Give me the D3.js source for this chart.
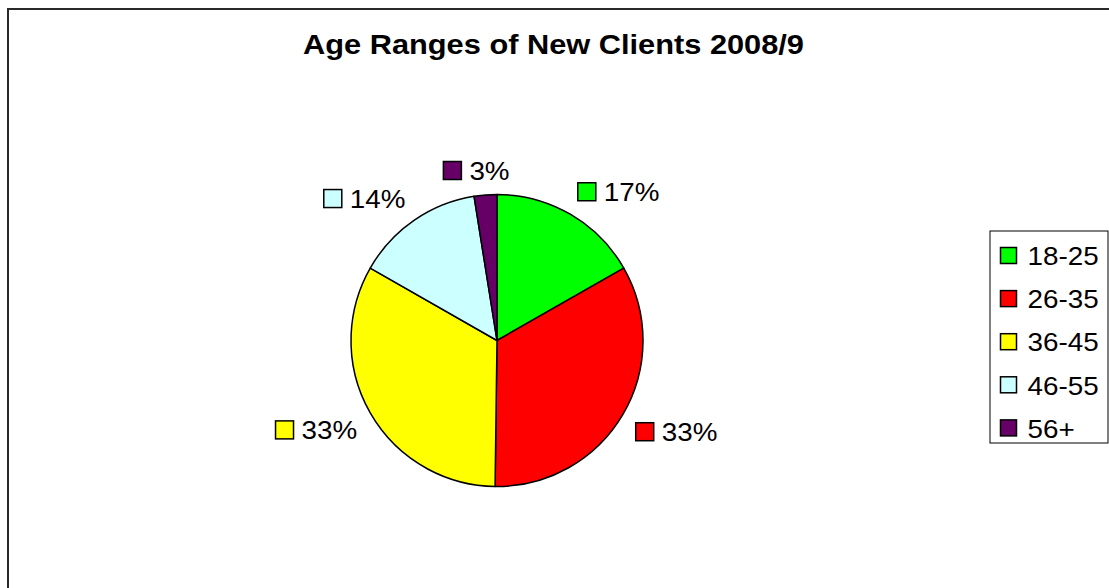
<!DOCTYPE html>
<html>
<head>
<meta charset="utf-8">
<script src="https://cdn.jsdelivr.net/npm/d3@7/dist/d3.min.js"></script>
<style>
  html, body { margin: 0; padding: 0; background: #fff; }
  svg { display: block; }
  text { font-family: "Liberation Sans", Arial, sans-serif; fill: #000; }
</style>
</head>
<body>
<svg id="chart" width="1109" height="588"></svg>
<script>
const title = "Age Ranges of New Clients 2008/9";
const categories = ["18-25", "26-35", "36-45", "46-55", "56+"];
const values = [40, 80, 79, 34, 6];
const colors = ["#00FF00", "#FF0000", "#FFFF00", "#CCFFFF", "#660066"];

const W = 1109, H = 588;
const svg = d3.select("#chart");
const SX = 1.07; // slight horizontal text stretch seen in the reference

// outer frame (extends past the window on right and bottom)
svg.append("rect")
  .attr("x", 8).attr("y", 9).attr("width", 1200).attr("height", 700)
  .attr("fill", "none").attr("stroke", "#2a2a2a").attr("stroke-width", 2);

// title
svg.append("text")
  .attr("transform", `translate(553.5,53.5) scale(1.14,1)`)
  .attr("text-anchor", "middle")
  .style("font-size", "27px").style("font-weight", "bold")
  .text(title);

// pie
const cx = 497, cy = 340.5, r = 146;
const total = d3.sum(values);
const pie = d3.pie().sort(null).value(d => d)(values);
const arc = d3.arc().innerRadius(0).outerRadius(r);
const color = d3.scaleOrdinal().domain(categories).range(colors);

const g = svg.append("g").attr("transform", `translate(${cx},${cy})`);
g.selectAll("path.slice").data(pie).join("path")
  .attr("class", "slice")
  .attr("d", arc)
  .attr("fill", (d, i) => color(categories[i]))
  .attr("stroke", "#000").attr("stroke-width", 1.5)
  .attr("stroke-linejoin", "round");

// data labels
const fs = 26, boxH = 19, keyS = 18, gap = 8;
const clamp = v => Math.max(-1, Math.min(1, v));
pie.forEach((d, i) => {
  const a = (d.startAngle + d.endAngle) / 2;
  const lr = 161;
  const ax = Math.sin(a) * lr, ay = -Math.cos(a) * lr;
  const lg = g.append("g");
  const t = lg.append("text")
    .style("font-size", fs + "px")
    .text(Math.round(values[i] / total * 100) + "%");
  const tw = t.node().getComputedTextLength() * SX;
  const w = keyS + gap + tw;
  const left = ax - w / 2 + (w / 2) * clamp(Math.sin(a) * 3);
  const top = ay - boxH / 2 - (boxH / 2) * clamp(Math.cos(a) * 3);
  lg.insert("rect", "text")
    .attr("x", left).attr("y", top + 0.5)
    .attr("width", keyS).attr("height", keyS)
    .attr("fill", color(categories[i]))
    .attr("stroke", "#000").attr("stroke-width", 1.5);
  t.attr("transform", `translate(${left + keyS + gap},${top + 19}) scale(${SX},1)`);
});

// legend
const lgd = svg.append("g");
lgd.append("rect")
  .attr("x", 990).attr("y", 231).attr("width", 118).attr("height", 212)
  .attr("fill", "#fff").attr("stroke", "#000").attr("stroke-width", 1);
categories.forEach((c, i) => {
  const yc = 256 + i * 43.1;
  lgd.append("rect")
    .attr("x", 1000.5).attr("y", yc - 8.5).attr("width", 16).attr("height", 16)
    .attr("fill", color(c)).attr("stroke", "#000").attr("stroke-width", 1.5);
  lgd.append("text")
    .attr("transform", `translate(1027.5,${yc + 9.2}) scale(${SX},1)`)
    .style("font-size", fs + "px")
    .text(c);
});
</script>
</body>
</html>
